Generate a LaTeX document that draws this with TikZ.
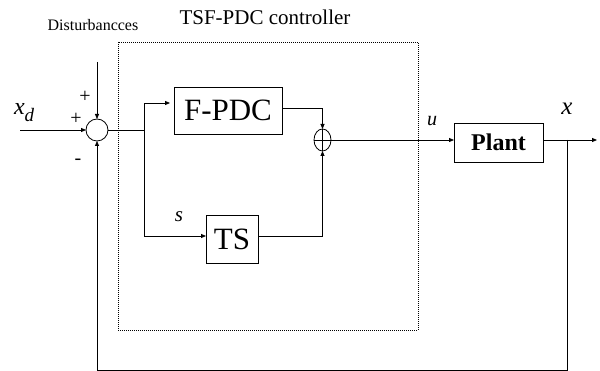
\documentclass[tikz,border=0pt]{standalone}
\usepackage{fontspec}
\setmainfont{Liberation Serif}
\usetikzlibrary{arrows.meta,shapes.geometric}
\begin{document}
\begin{tikzpicture}[x=1pt,y=-1pt,
  every node/.style={inner sep=0pt,outer sep=0pt},
  blk/.style={draw,line width=0.8pt,rectangle,inner sep=0pt},
  wire/.style={line width=0.8pt},
  arr/.style={wire,-{Triangle[length=5pt,width=4pt]}},
  lbl/.style={font=\fontsize{#1}{#1}\selectfont}
]
\useasboundingbox (0,0) rectangle (600,371);
% dotted controller box
\draw[line width=0.8pt,dash pattern=on 1pt off 1pt] (118,42) rectangle (418,330);
% blocks
\node[draw,circle,line width=0.8pt,minimum size=22pt] (sum) at (97,130) {};
\node[blk,minimum width=108pt,minimum height=47pt,lbl=31] (fpdc) at (228,110.5) {F-PDC};
\node[blk,minimum width=52pt,minimum height=48pt,lbl=31] (ts) at (232,239) {TS};
\node[blk,minimum width=89pt,minimum height=39pt,font=\fontsize{24}{24}\selectfont\bfseries] (plant) at (498.5,142.5) {Plant};
\node[draw,ellipse,line width=0.8pt,minimum width=17pt,minimum height=22pt] (op) at (322.5,140) {};
\draw[wire] (op.north) -- (op.south) (op.west) -- (op.east);
% coordinates
\coordinate (xin) at (20,130);
\coordinate (dist) at (97,62);
\coordinate (br) at (144,130);
\coordinate (out) at (597,140);
\coordinate (fb) at (567,140);
\coordinate (fbr) at (567,370);
\coordinate (fbl) at (97,370);
% connectors
\draw[arr] (xin) -- (sum.west);
\draw[arr] (dist) -- (sum.north);
\draw[wire] (sum.east) -- (br);
\draw[arr] (br) |- ([yshift=7.5pt,xshift=-4pt]fpdc.west);
\draw[arr] (br) |- ([yshift=3pt]ts.west);
\draw[arr] ([yshift=2.5pt]fpdc.east) -| (op.north);
\draw[arr] ([yshift=3pt]ts.east) -| (op.south);
\draw[arr] (op.east) -- (op.east -| plant.west);
\draw[arr] (op.east -| plant.east) -- (out);
\draw[arr] (fb) -- (fbr) -- (fbl) -- (sum.south);
% labels
\node[lbl=16] (tdist) at (93,25) {Disturbancces};
\node[lbl=21] (tctl) at (265,17) {TSF-PDC controller};
\node[lbl=24,anchor=base west] (txd) at (14,115) {\itshape x\raisebox{-0.28em}{\fontsize{19}{19}\selectfont d}};
\node[lbl=20] (p1) at (85,97) {+};
\node[lbl=20] (p2) at (76,119) {+};
\node[lbl=20] (m1) at (78,162) {-};
\node[lbl=20] (tu) at (432,121) {\itshape u};
\node[lbl=21] (ts2) at (179,217) {\itshape s};
\node[lbl=25] (tx) at (567,109) {\itshape x};
\end{tikzpicture}
\end{document}
